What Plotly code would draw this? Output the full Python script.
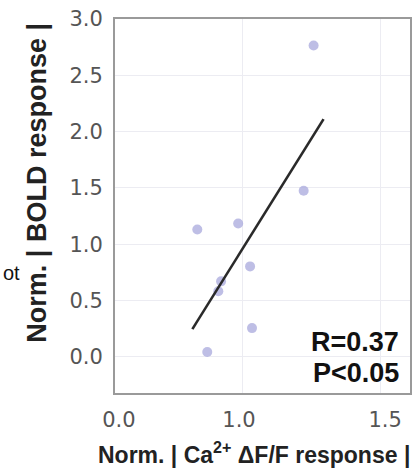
import plotly.graph_objects as go

# Data
ca_response = [0.838, 0.986, 1.029, 0.924, 0.914, 1.036, 0.874, 1.259, 1.223]
bold_response = [1.131, 1.184, 0.804, 0.671, 0.583, 0.256, 0.044, 2.765, 1.475]
fit_x = [0.820, 1.295]
fit_y = [0.247, 2.111]

x_tick_vals = [0.554, 0.989, 1.518]
x_tick_text = ["0.0", "1.0", "1.5"]
x_grid_vals = [1.0, 1.5]
y_tick_vals = [0.0, 0.5, 1.0, 1.5, 2.0, 2.5, 3.0]
y_tick_text = ["0.0", "0.5", "1.0", "1.5", "2.0", "2.5", "3.0"]
x_title = "<b>Norm. | Ca<sup>2+</sup> ΔF/F response |</b>"
y_title = "<b>Norm. | BOLD response |</b>"
r_text = "<b>R=0.37</b>"
p_text = "<b>P<0.05</b>"
side_text = "ot"

W, H = 419, 473
L, R, T, B = 115, 7, 17, 80
plot_h = H - T - B


def py(pix):
    # convert a pixel row of the page into paper coordinates
    return (H - B - pix) / plot_h


def px(pix):
    return (pix - L) / (W - L - R)


fig = go.Figure()
fig.add_trace(go.Scatter(
    x=ca_response, y=bold_response, mode="markers",
    marker=dict(size=10, color="rgba(168,168,220,0.75)", line=dict(width=0)),
    showlegend=False, hoverinfo="skip"))
fig.add_trace(go.Scatter(
    x=fit_x, y=fit_y, mode="lines",
    line=dict(color="#2a2a2a", width=2.6),
    showlegend=False, hoverinfo="skip"))

font_family = "Liberation Sans, Arial, sans-serif"
tick_family = "DejaVu Sans, sans-serif"

fig.update_layout(
    width=W, height=H,
    margin=dict(l=L, r=R, t=T, b=B),
    paper_bgcolor="white", plot_bgcolor="white",
    font=dict(family=font_family, color="#444"),
    xaxis=dict(
        range=[0.540, 1.608],
        tickmode="array", tickvals=x_tick_vals, ticktext=x_tick_text,
        showgrid=False, zeroline=False,
        ticks="outside", ticklen=7, tickcolor="rgba(0,0,0,0)",
        tickfont=dict(size=21, color="#555", family=tick_family),
        showline=True, linecolor="#9a9a9a", linewidth=2, mirror=True,
        minor=dict(tickmode="array", tickvals=x_grid_vals, showgrid=True,
                   gridcolor="#ececf2", gridwidth=1, ticks=""),
    ),
    yaxis=dict(
        range=[-0.32, 3.0],
        tickmode="array", tickvals=y_tick_vals, ticktext=y_tick_text,
        showgrid=True, gridcolor="#ececf2", gridwidth=1, zeroline=False,
        ticks="outside", ticklen=6, tickcolor="rgba(0,0,0,0)",
        tickfont=dict(size=21, color="#555", family=tick_family),
        showline=True, linecolor="#9a9a9a", linewidth=2, mirror=True,
    ),
    annotations=[
        dict(text=x_title, xref="paper", yref="paper", x=px(255), y=py(453),
             xanchor="center", yanchor="middle", showarrow=False,
             font=dict(size=23, color="#222")),
        dict(text=y_title, xref="paper", yref="paper", x=px(37), y=py(182),
             xanchor="center", yanchor="middle", textangle=-90, showarrow=False,
             font=dict(size=27, color="#222")),
        dict(text=r_text, xref="paper", yref="paper", x=px(403), y=py(342),
             xanchor="right", yanchor="middle", showarrow=False,
             font=dict(size=27, color="#111")),
        dict(text=p_text, xref="paper", yref="paper", x=px(403), y=py(373),
             xanchor="right", yanchor="middle", showarrow=False,
             font=dict(size=27, color="#111")),
        dict(text=side_text, xref="paper", yref="paper", x=px(0), y=py(272),
             xanchor="left", yanchor="middle", showarrow=False,
             font=dict(size=20, color="#111")),
    ],
)

fig.write_html("out.html")
